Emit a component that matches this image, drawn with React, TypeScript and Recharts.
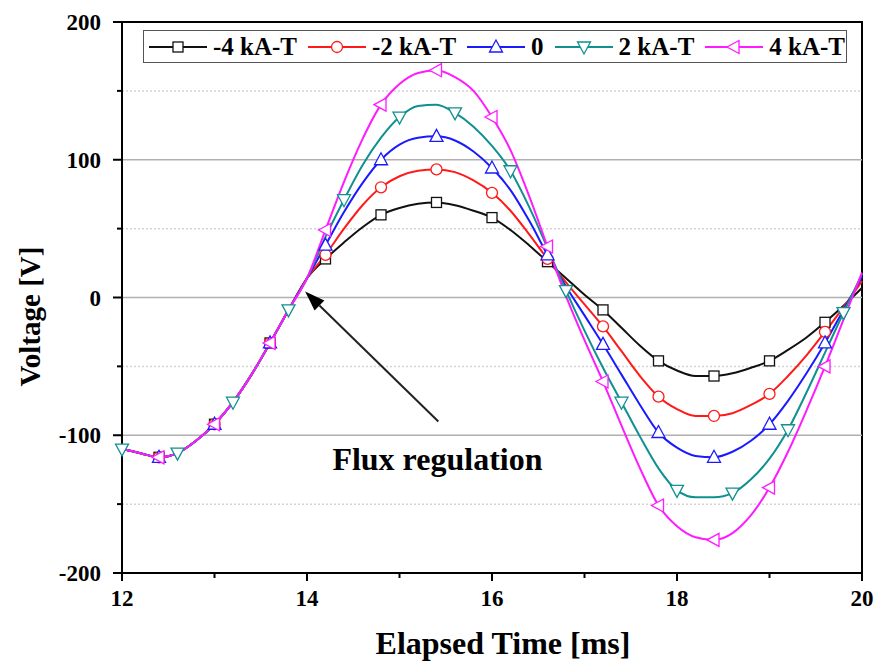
import React from "react"
import {
  Line,
  LineChart,
  ReferenceArea,
  ReferenceDot,
  ReferenceLine,
  XAxis,
  YAxis,
} from "recharts"

const FONT = "'Liberation Serif', 'Times New Roman', serif"

// elapsed time [ms], one reading every 0.2 ms
const TIME_MS = [
  12.0, 12.2, 12.4, 12.6, 12.8, 13.0, 13.2, 13.4, 13.6, 13.8,
  14.0, 14.2, 14.4, 14.6, 14.8, 15.0, 15.2, 15.4, 15.6, 15.8,
  16.0, 16.2, 16.4, 16.6, 16.8, 17.0, 17.2, 17.4, 17.6, 17.8,
  18.0, 18.2, 18.4, 18.6, 18.8, 19.0, 19.2, 19.4, 19.6, 19.8, 20.0,
]

// all five curves coincide before 14 ms
const SHARED_V = [-110, -113, -116, -113, -104, -92, -76, -56, -33, -9]

const V_MINUS4 = [...SHARED_V,
  14, 28, 40, 51, 60, 65, 68, 69, 67, 63,
  58, 49, 38, 26, 14, 2, -9, -22, -35, -46,
  -53, -57, -57, -55, -51, -46, -38, -29, -18, -6, 7]
const V_MINUS2 = [...SHARED_V,
  14, 31, 50, 67, 80, 88, 92, 93, 91, 85,
  76, 63, 46, 28, 11, -5, -21, -39, -57, -72,
  -81, -86, -86, -84, -78, -70, -57, -42, -25, -7, 12]
const V_ZERO = [...SHARED_V,
  14, 38, 62, 83, 100, 111, 116, 117, 114, 106,
  94, 78, 56, 31, 8, -13, -34, -56, -78, -98,
  -109, -115, -116, -112, -104, -92, -75, -55, -33, -9, 15]
const V_PLUS2 = [...SHARED_V,
  14, 44, 71, 96, 116, 131, 139, 140, 134, 124,
  110, 92, 66, 36, 5, -24, -51, -76, -101, -124,
  -140, -145, -145, -142, -132, -117, -96, -69, -40, -11, 17]
const V_PLUS4 = [...SHARED_V,
  14, 49, 84, 115, 140, 155, 163, 165, 160, 150,
  131, 107, 74, 37, 1, -31, -61, -93, -124, -151,
  -166, -174, -176, -171, -158, -138, -112, -82, -50, -16, 18]

const X_TICKS = [12, 13, 14, 15, 16, 17, 18, 19, 20]
const Y_TICKS = [-200, -150, -100, -50, 0, 50, 100, 150, 200]
const SOLID_GRID = [-100, 0, 100]
const DOTTED_GRID = [-150, -50, 50, 150]

const ARROW_TAIL = { x: 15.42, y: -90 }
const ARROW_TIP = { x: 13.98, y: 4.4 }
const NOTE_AT = { x: 15.41, y: -116.8 }

type Shape = "square" | "circle" | "up" | "down" | "left"

const SERIES: { key: string; name: string; color: string; shape: Shape; phase: number }[] = [
  { key: "m4", name: "-4 kA-T", color: "#111111", shape: "square", phase: 2 },
  { key: "m2", name: "-2 kA-T", color: "#ff1a1a", shape: "circle", phase: 2 },
  { key: "z", name: "0", color: "#1a1aff", shape: "up", phase: 2 },
  { key: "p2", name: "2 kA-T", color: "#109090", shape: "down", phase: 0 },
  { key: "p4", name: "4 kA-T", color: "#ff1aff", shape: "left", phase: 2 },
]

const data = TIME_MS.map((t, i) => ({
  t,
  m4: V_MINUS4[i],
  m2: V_MINUS2[i],
  z: V_ZERO[i],
  p2: V_PLUS2[i],
  p4: V_PLUS4[i],
}))

function Marker({ cx, cy, shape, color }: { cx: number; cy: number; shape: Shape; color: string }) {
  const common = { fill: "#fff", stroke: color, strokeWidth: 1.3 }
  if (shape === "square") return <rect x={cx - 5} y={cy - 5} width={10} height={10} {...common} />
  if (shape === "circle") return <circle cx={cx} cy={cy} r={5.5} {...common} />
  let pts = ""
  if (shape === "up") pts = `${cx},${cy - 7} ${cx - 6.5},${cy + 5} ${cx + 6.5},${cy + 5}`
  if (shape === "down") pts = `${cx},${cy + 7} ${cx - 6.5},${cy - 5} ${cx + 6.5},${cy - 5}`
  if (shape === "left") pts = `${cx - 7},${cy} ${cx + 5},${cy - 6.5} ${cx + 5},${cy + 6.5}`
  return <polygon points={pts} {...common} />
}

function XTick(props: any) {
  const { x, y, payload } = props
  const major = payload.value % 2 === 0
  return (
    <g>
      <line x1={x} x2={x} y1={y} y2={y + (major ? 8 : 5)} stroke="#000" strokeWidth={2} />
      {major ? (
        <text x={x} y={y + 33} textAnchor="middle" style={{ fontFamily: FONT, fontWeight: 700, fontSize: 23 }} fill="#000">
          {payload.value}
        </text>
      ) : null}
    </g>
  )
}

function YTick(props: any) {
  const { x, y, payload } = props
  const major = payload.value % 100 === 0
  return (
    <g>
      <line x1={x} x2={x - (major ? 9 : 5)} y1={y} y2={y} stroke="#000" strokeWidth={2} />
      {major ? (
        <text x={x - 21} y={y + 8} textAnchor="end" style={{ fontFamily: FONT, fontWeight: 700, fontSize: 23 }} fill="#000">
          {payload.value}
        </text>
      ) : null}
    </g>
  )
}

function xTitle(props: any) {
  const vb = props.viewBox
  return (
    <text x={vb.x + vb.width / 2 + 11} y={vb.y + 81} textAnchor="middle" style={{ fontFamily: FONT, fontWeight: 700, fontSize: 32 }} fill="#000">
      Elapsed Time [ms]
    </text>
  )
}

function yTitle(props: any) {
  const vb = props.viewBox
  const cx = vb.x + 30
  const cy = vb.y + vb.height / 2 + 19
  return (
    <text x={cx} y={cy} transform={`rotate(-90, ${cx}, ${cy})`} textAnchor="middle" dominantBaseline="central" style={{ fontFamily: FONT, fontWeight: 700, fontSize: 29 }} fill="#000">
      Voltage [V]
    </text>
  )
}

function Arrow(props: any) {
  const { x1, y1, x2, y2 } = props
  const dx = x2 - x1
  const dy = y2 - y1
  const len = Math.sqrt(dx * dx + dy * dy)
  const ux = dx / len
  const uy = dy / len
  const head = 20
  const half = 7
  const bx = x2 - ux * head
  const by = y2 - uy * head
  return (
    <g>
      <line x1={x1} y1={y1} x2={bx} y2={by} stroke="#222" strokeWidth={2} />
      <polygon
        points={`${x2},${y2} ${bx - uy * half},${by + ux * half} ${bx + uy * half},${by - ux * half}`}
        fill="#000"
      />
    </g>
  )
}

export default function App() {
  return (
    <div style={{ position: "absolute", left: 0, top: 0, width: 877, height: 666, background: "#fff" }}>
      <LineChart width={877} height={666} data={data} margin={{ top: 22, right: 15, left: 0, bottom: 0 }}>
        {DOTTED_GRID.map((v) => (
          <ReferenceLine key={`d${v}`} y={v} stroke="#d4d4d4" strokeWidth={1.5} strokeDasharray="2 2" />
        ))}
        {SOLID_GRID.map((v) => (
          <ReferenceLine key={`s${v}`} y={v} stroke="#b0b0b0" strokeWidth={1.5} />
        ))}
        <XAxis
          dataKey="t"
          type="number"
          domain={[12, 20]}
          ticks={X_TICKS}
          interval={0}
          height={93}
          tickSize={0}
          tickMargin={0}
          tickLine={false}
          tick={<XTick />}
          axisLine={{ stroke: "#000", strokeWidth: 2 }}
          label={xTitle}
        />
        <YAxis
          type="number"
          domain={[-200, 200]}
          ticks={Y_TICKS}
          interval={0}
          width={122}
          tickSize={0}
          tickMargin={0}
          tickLine={false}
          tick={<YTick />}
          axisLine={{ stroke: "#000", strokeWidth: 2 }}
          label={yTitle}
        />
        {SERIES.map((s) => (
          <Line
            key={s.key}
            type="monotone"
            dataKey={s.key}
            name={s.name}
            stroke={s.color}
            strokeWidth={2}
            isAnimationActive={false}
            dot={(p: any) =>
              p.index % 3 === s.phase ? (
                <Marker key={`${s.key}-${p.index}`} cx={p.cx} cy={p.cy} shape={s.shape} color={s.color} />
              ) : (
                <g key={`${s.key}-${p.index}`} />
              )
            }
            activeDot={false}
          />
        ))}
        <ReferenceLine segment={[ARROW_TAIL, ARROW_TIP]} shape={Arrow} />
        <ReferenceDot
          x={NOTE_AT.x}
          y={NOTE_AT.y}
          r={0}
          fill="none"
          stroke="none"
          label={{
            value: "Flux regulation",
            position: "center",
            fill: "#000",
            fontSize: 32,
            fontWeight: "bold",
            fontFamily: FONT,
          }}
        />
        <ReferenceArea x1={12} x2={20} y1={-200} y2={200} fill="none" stroke="#000" strokeWidth={2} />
      </LineChart>
      <div
        style={{
          position: "absolute",
          left: 143,
          top: 30,
          width: 704,
          height: 33,
          boxSizing: "border-box",
          border: "1.5px solid #555",
          background: "#fff",
          display: "flex",
          alignItems: "center",
          paddingLeft: 5,
          fontFamily: FONT,
          fontWeight: "bold",
          fontSize: 25,
          color: "#000",
          whiteSpace: "nowrap",
          overflow: "hidden",
        }}
      >
        {SERIES.map((s) => (
          <div key={s.key} style={{ display: "flex", alignItems: "center", marginRight: 11, flexShrink: 0 }}>
            <svg width={58} height={20} style={{ flexShrink: 0 }}>
              <line x1={0} x2={58} y1={10} y2={10} stroke={s.color} strokeWidth={2} />
              <Marker cx={29} cy={10} shape={s.shape} color={s.color} />
            </svg>
            <span style={{ marginLeft: 6, lineHeight: "25px" }}>{s.name}</span>
          </div>
        ))}
      </div>
    </div>
  )
}
